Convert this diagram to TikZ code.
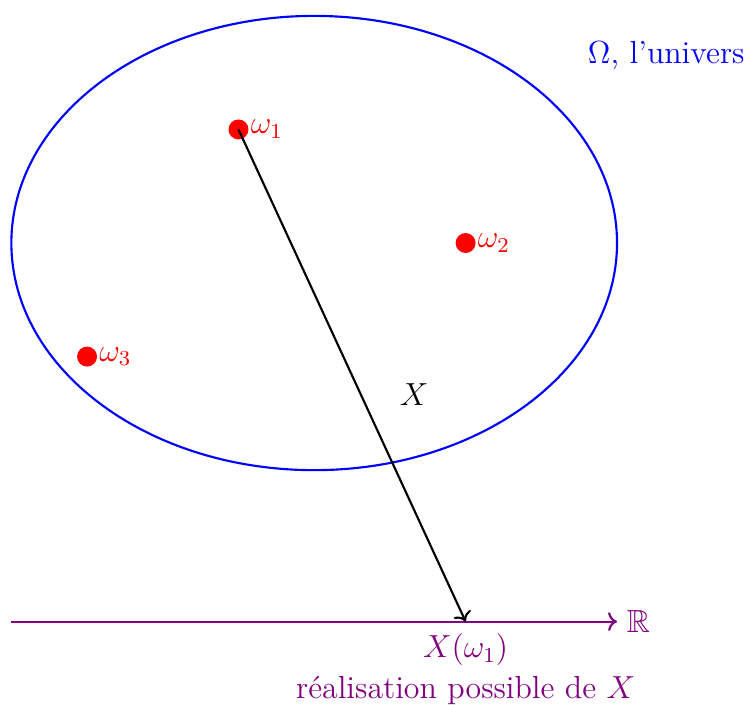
\documentclass[tikz,border=0pt]{standalone}
\usepackage{amsmath,amssymb,amsfonts}
\usepackage{tikz}
\usetikzlibrary{arrows.meta}
\usetikzlibrary{calc,positioning}
\definecolor{pourpre}{RGB}{128,0,128}

\begin{document}
\begin{tikzpicture}[font=\large,
    issue/.style={circle,fill=red,inner sep=0pt,minimum size=7.5pt},
    nomissue/.style={red,inner sep=0.5pt}]
        \useasboundingbox (-4.15,-6.09) rectangle (5.73,3.21);

        % l'univers
        \draw[blue,thick] (0,0) ellipse (4 and 3);
        \node[blue] (omega) at (4.65,2.48) {$\Omega$, l'univers};

        % les issues
        \node[issue] (w1) at (-1,1.5) {};
        \node[issue] (w2) at (2,0) {};
        \node[issue] (w3) at (-3,-1.5) {};
        \node[nomissue,right=0pt of w1] (n1) {$\omega_1$};
        \node[nomissue,right=0pt of w2] (n2) {$\omega_2$};
        \node[nomissue,right=0pt of w3] (n3) {$\omega_3$};

        % la droite des reels
        \coordinate (ra) at (-4,-5);
        \coordinate (rb) at (4,-5);
        \coordinate (x1) at (2,-5);
        \draw[->,thick,pourpre] (ra) -- (rb) node[right] (reel) {$\mathbb{R}$};

        \draw[->,thick] (w1.center) -- (x1);
        \node (nx) at (1.32,-2.0) {$X$};

        \node[pourpre,below=1pt of x1] (img) {$X(\omega_1)$};
        \node[pourpre,below=-3pt of img] (real) {réalisation possible de $X$};
      \end{tikzpicture}
\end{document}
